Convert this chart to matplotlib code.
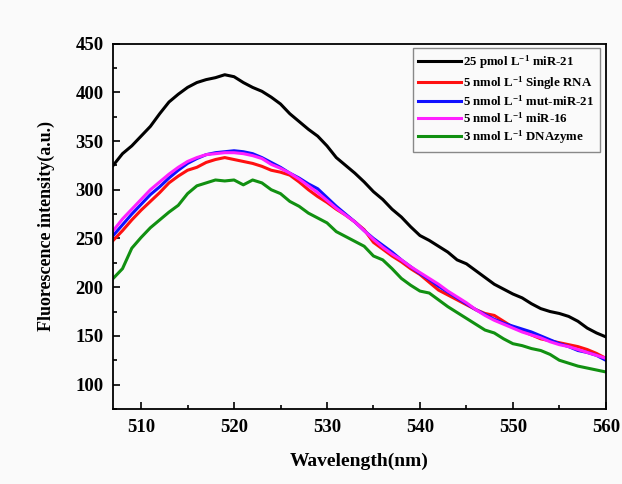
import numpy as np
import matplotlib
matplotlib.use("Agg")
import matplotlib.pyplot as plt
from matplotlib.ticker import MultipleLocator

plt.rcParams['font.family'] = ['Liberation Serif', 'DejaVu Serif']
plt.rcParams['font.weight'] = 'bold'
plt.rcParams['mathtext.fontset'] = 'custom'
plt.rcParams['mathtext.rm'] = 'Liberation Serif:bold'
plt.rcParams['mathtext.it'] = 'Liberation Serif:bold'
plt.rcParams['mathtext.bf'] = 'Liberation Serif:bold'

# wavelength (nm)
wl = np.arange(507, 561)

mir21 = [325, 337, 345, 355, 365, 378, 390, 398, 405, 410, 413, 415, 418, 416, 410,
         405, 401, 395, 388, 378, 370, 362, 355, 345, 333, 325, 317, 308, 298, 290,
         280, 272, 262, 253, 248, 242, 236, 228, 224, 217, 210, 203, 198, 193, 189,
         183, 178, 175, 173, 170, 165, 158, 153, 149]
single_rna = [248, 258, 269, 279, 288, 297, 307, 314, 320, 323, 328, 331, 333, 331, 329,
              327, 324, 320, 318, 315, 308, 300, 293, 287, 280, 274, 267, 259, 246, 239,
              232, 226, 219, 213, 205, 197, 192, 187, 182, 177, 173, 171, 165, 159, 155,
              151, 147, 145, 143, 141, 139, 136, 132, 127]
mut_mir21 = [253, 264, 275, 285, 295, 303, 312, 320, 327, 332, 336, 338, 339, 340, 339,
             337, 333, 328, 323, 317, 312, 306, 301, 292, 283, 275, 267, 258, 250, 243,
             236, 228, 221, 214, 208, 201, 195, 189, 183, 177, 172, 167, 163, 160, 157,
             154, 150, 146, 142, 139, 135, 133, 130, 125]
mir16 = [258, 270, 280, 290, 300, 308, 316, 323, 329, 333, 336, 337, 338, 338, 337,
         335, 332, 326, 322, 317, 311, 304, 297, 289, 281, 274, 267, 258, 249, 241,
         234, 228, 221, 215, 209, 203, 196, 190, 184, 177, 171, 166, 162, 158, 154,
         151, 148, 144, 141, 139, 136, 133, 130, 127]
dnazyme = [209, 219, 240, 251, 261, 269, 277, 284, 296, 304, 307, 310, 309, 310, 305,
           310, 307, 300, 296, 288, 283, 276, 271, 266, 257, 252, 247, 242, 232, 228,
           219, 209, 202, 196, 194, 187, 180, 174, 168, 162, 156, 153, 147, 142, 140,
           137, 135, 131, 125, 122, 119, 117, 115, 113]

labels = [r'25 pmol L$^{-1}$ miR-21',
          r'5 nmol L$^{-1}$ Single RNA',
          r'5 nmol L$^{-1}$ mut-miR-21',
          r'5 nmol L$^{-1}$ miR-16',
          r'3 nmol L$^{-1}$ DNAzyme']
colors = ['black', '#ff1010', '#1010ff', '#ff20ff', '#119011']

fig = plt.figure(figsize=(6.22, 4.84), dpi=100, facecolor='#fafafa')
ax = fig.add_axes([0.182, 0.155, 0.792, 0.755])
ax.set_facecolor('#fafafa')

for y, lab, c in zip([mir21, single_rna, mut_mir21, mir16, dnazyme], labels, colors):
    ax.plot(wl, y, color=c, lw=2.2, label=lab)

ax.set_xlim(507, 560)
ax.set_ylim(75, 450)
ax.xaxis.set_major_locator(MultipleLocator(10))
ax.xaxis.set_minor_locator(MultipleLocator(5))
ax.yaxis.set_major_locator(MultipleLocator(50))
ax.yaxis.set_minor_locator(MultipleLocator(25))
ax.tick_params(which='both', direction='in', width=1.2)
ax.tick_params(which='major', length=5, labelsize=13.5, pad=7)
ax.tick_params(which='minor', length=3)
for s in ax.spines.values():
    s.set_linewidth(1.3)

ax.set_xlabel('Wavelength(nm)', fontsize=14, fontweight='bold', labelpad=12)
ax.set_ylabel('Fluorescence intensity(a.u.)', fontsize=13, fontweight='bold', labelpad=15)

leg = ax.legend(loc='upper right', fontsize=9.3, handlelength=3.3, handletextpad=0.15,
                labelspacing=0.2, fancybox=False, borderaxespad=0,
                borderpad=0.45, bbox_to_anchor=(0.988, 0.988))
leg.get_frame().set_edgecolor('#888888')
leg.get_frame().set_linewidth(1.0)
leg.get_frame().set_facecolor('#fafafa')
leg.get_frame().set_alpha(1)

fig.savefig('out.png', dpi=100, facecolor=fig.get_facecolor())
